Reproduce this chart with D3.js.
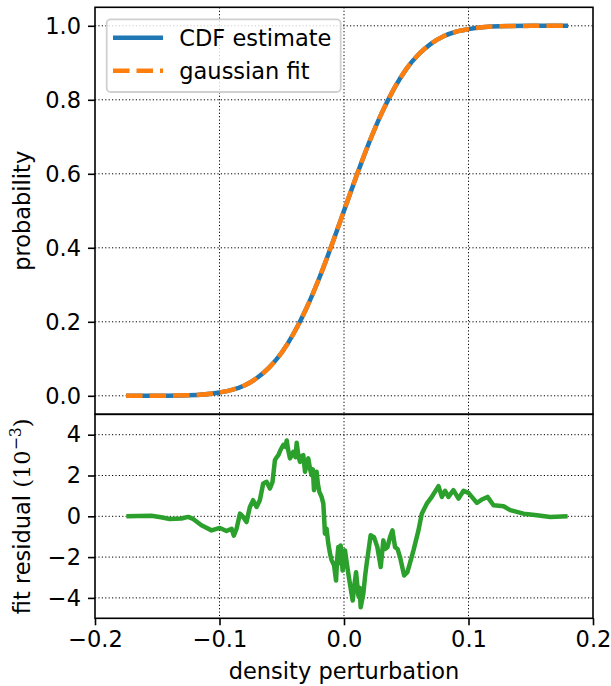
<!DOCTYPE html>
<html lang="en">
<head>
  <meta charset="UTF-8">
  <title>CDF fit</title>
  <script src="https://cdn.jsdelivr.net/npm/d3@7"></script>
  <style>
    body { margin: 0; background: #fff; }
    text { font-family: "DejaVu Sans", sans-serif; fill: #000; }
  </style>
</head>
<body>
  <svg id="svg" width="611" height="686"></svg>

  <script>
    // CDF curve
    const cdfX = [-0.175, -0.15, -0.125, -0.1, -0.09, -0.08, -0.07, -0.06, -0.05, -0.04, -0.03, -0.02, -0.01, 0,
                  0.01, 0.02, 0.03, 0.04, 0.05, 0.06, 0.07, 0.08, 0.09, 0.1, 0.125, 0.15, 0.18]
    const cdfEstimate = [0.0, 0.0002, 0.0014, 0.009, 0.016, 0.028, 0.048, 0.077, 0.117, 0.171, 0.238, 0.317, 0.406, 0.5,
                         0.594, 0.683, 0.762, 0.829, 0.883, 0.923, 0.952, 0.972, 0.984, 0.991, 0.9986, 0.9998, 1.0]
    const gaussFit = [0.0, 0.0002, 0.0014, 0.009, 0.016, 0.028, 0.048, 0.077, 0.117, 0.171, 0.238, 0.317, 0.406, 0.5,
                      0.594, 0.683, 0.762, 0.829, 0.883, 0.923, 0.952, 0.972, 0.984, 0.991, 0.9986, 0.9998, 1.0]

    // fit residual (units of 1e-3)
    const resX = [-0.1748, -0.165, -0.1547, -0.147, -0.140, -0.1306, -0.1252, -0.1212, -0.1145, -0.1064, -0.0997, -0.0944,
      -0.0903, -0.0885, -0.0863, -0.0836, -0.081, -0.0783, -0.0756, -0.073, -0.0702, -0.0676, -0.0649, -0.0622, -0.0595,
      -0.0574, -0.0555, -0.054, -0.0527, -0.051, -0.0487, -0.047, -0.046, -0.045, -0.0434, -0.042, -0.0407, -0.039, -0.038,
      -0.0365, -0.0353, -0.034, -0.0327, -0.0313, -0.03, -0.0287, -0.0272, -0.026, -0.025,
      -0.0241, -0.022, -0.021, -0.0198, -0.018, -0.0166, -0.0153, -0.014, -0.0126, -0.011, -0.0099, -0.008, -0.0064,
      -0.0055, -0.0046, -0.0035, -0.0027, -0.0011, 0.0008, 0.002,
      0.0035, 0.005, 0.007, 0.0085, 0.0097, 0.0115, 0.0125, 0.0134, 0.0155, 0.017, 0.0182, 0.0214, 0.0241, 0.0268, 0.0295,
      0.0316, 0.033, 0.0349, 0.037, 0.0389, 0.041, 0.043, 0.045, 0.0483, 0.0509, 0.0536, 0.0558, 0.0598, 0.0625, 0.0665,
      0.0705, 0.0759, 0.0786, 0.0812,
      0.0839, 0.0879, 0.092, 0.096, 0.1, 0.1027, 0.1067, 0.1107, 0.1153, 0.1201, 0.1282, 0.1335, 0.1442, 0.155, 0.1657, 0.1796]
    const resY = [0, 0.01, 0.03, -0.05, -0.13, -0.11, -0.03, -0.13, -0.44, -0.69, -0.57, -0.72,
      -0.61, -0.95, -0.61, 0.13, -0.03, -0.28, 0.46, 0.79, 0.46, 0.79, 1.61, 1.69, 1.36,
      1.69, 2.75, 2.9, 3.0, 3.25, 3.5, 3.4, 3.72, 3.3, 2.84, 3.0, 3.16, 2.9, 3.6,
      2.9, 2.67, 2.95, 3.0, 2.18, 2.6, 2.84, 2.3, 2.02, 2.3,
      1.28, 2.18, 1.6, 1.2, 0.95, 0.62, -0.85, -0.6, -1.34, -1.9, -2.16, -2.4, -3.15,
      -2.1, -1.51, -2.3, -1.43, -2.66, -1.67, -2.2,
      -2.82, -3.4, -4.13, -3.3, -2.74, -3.89, -3.5, -4.46, -3.8, -2.9, -2.33, -0.93, -1.02, -1.51, -2.49,
      -1.18, -1.6, -1.51, -1.02, -0.69, -1.51, -1.6, -2.0, -2.9, -2.74, -2.16, -1.67, -0.69, 0.13, 0.62,
      0.95, 1.48, 0.95, 1.25,
      0.95, 1.28, 0.87, 1.25, 1.15, 0.95, 0.66, 0.82, 0.95, 0.54, 0.49, 0.30, 0.13, 0.05, -0.03, 0]

    const xTicks = [-0.2, -0.1, 0.0, 0.1, 0.2]
    const cdfTicks = [0.0, 0.2, 0.4, 0.6, 0.8, 1.0]
    const resTicks = [-4, -2, 0, 2, 4]

    const fontSize = 22.5
    const left = 95, right = 593
    const top1 = 7.3, bot1 = 414.3, bot2 = 618.3

    const svg = d3.select("#svg")
    const minus = s => s.replace("-", "\u2212")

    const x = d3.scaleLinear().domain([-0.2, 0.2]).range([left, right])
    const y1 = d3.scaleLinear().domain([-0.05, 1.05]).range([bot1, top1])
    const y2 = d3.scaleLinear().domain([-5, 5]).range([bot2, bot1])

    function panel(yscale, ticks, fmt, yTop, yBot) {
      const g = svg.append("g")
      // grid
      g.append("g").selectAll("line").data(xTicks.slice(1, -1)).join("line")
        .attr("x1", d => x(d)).attr("x2", d => x(d))
        .attr("y1", yTop).attr("y2", yBot)
        .attr("stroke", "#000").attr("stroke-width", 1).attr("stroke-dasharray", "1.2,2.2")
      g.append("g").selectAll("line").data(ticks).join("line")
        .attr("x1", left).attr("x2", right)
        .attr("y1", d => yscale(d)).attr("y2", d => yscale(d))
        .attr("stroke", "#000").attr("stroke-width", 1).attr("stroke-dasharray", "1.2,2.2")
      // y axis
      const ax = g.append("g")
        .attr("transform", `translate(${left},0)`)
        .call(d3.axisLeft(yscale).tickValues(ticks).tickFormat(d => minus(fmt(d)))
          .tickSize(7).tickPadding(7).tickSizeOuter(0))
      ax.select(".domain").remove()
      ax.selectAll("line").attr("stroke-width", 1.6)
      ax.selectAll("text").attr("font-size", fontSize).attr("font-family", "DejaVu Sans")
      return g
    }

    panel(y1, cdfTicks, d3.format(".1f"), top1, bot1)
    panel(y2, resTicks, d3.format("d"), bot1, bot2)

    // x axis at the bottom
    const xa = svg.append("g")
      .attr("transform", `translate(0,${bot2})`)
      .call(d3.axisBottom(x).tickValues(xTicks).tickFormat(d => minus(d3.format(".1f")(d)))
        .tickSize(7).tickPadding(6).tickSizeOuter(0))
    xa.select(".domain").remove()
    xa.selectAll("line").attr("stroke-width", 1.6)
    xa.selectAll("text").attr("font-size", fontSize).attr("font-family", "DejaVu Sans")

    // curves
    const cdfLine = d3.line().x((d, i) => x(cdfX[i])).y(d => y1(d)).curve(d3.curveMonotoneX)
    svg.append("path").datum(cdfEstimate)
      .attr("d", cdfLine).attr("fill", "none")
      .attr("stroke", "#1f77b4").attr("stroke-width", 4.5)
    svg.append("path").datum(gaussFit)
      .attr("d", cdfLine).attr("fill", "none")
      .attr("stroke", "#ff7f0e").attr("stroke-width", 4.5).attr("stroke-dasharray", "16.5,7")

    const resLine = d3.line().x((d, i) => x(resX[i])).y(d => y2(d))
    svg.append("path").datum(resY)
      .attr("d", resLine).attr("fill", "none")
      .attr("stroke", "#2ca02c").attr("stroke-width", 4.5).attr("stroke-linejoin", "round")

    // frames
    svg.append("rect").attr("x", left).attr("y", top1).attr("width", right - left).attr("height", bot1 - top1)
      .attr("fill", "none").attr("stroke", "#000").attr("stroke-width", 1.6)
    svg.append("rect").attr("x", left).attr("y", bot1).attr("width", right - left).attr("height", bot2 - bot1)
      .attr("fill", "none").attr("stroke", "#000").attr("stroke-width", 1.6)

    // legend
    const lg = svg.append("g")
    lg.append("rect").attr("x", 106.7).attr("y", 19.3).attr("width", 234).attr("height", 72.7)
      .attr("rx", 4).attr("fill", "#fff").attr("fill-opacity", 0.8)
      .attr("stroke", "#d0d0d0").attr("stroke-width", 1.8)
    lg.append("line").attr("x1", 113).attr("x2", 163).attr("y1", 37.7).attr("y2", 37.7)
      .attr("stroke", "#1f77b4").attr("stroke-width", 4.5)
    lg.append("line").attr("x1", 113).attr("x2", 163).attr("y1", 70.7).attr("y2", 70.7)
      .attr("stroke", "#ff7f0e").attr("stroke-width", 4.5).attr("stroke-dasharray", "16.5,7")
    lg.append("text").attr("x", 179.3).attr("y", 46).attr("font-size", fontSize).text("CDF estimate")
    lg.append("text").attr("x", 179.3).attr("y", 79).attr("font-size", fontSize).text("gaussian fit")

    // labels
    svg.append("text").attr("transform", `translate(30,${(top1 + bot1) / 2}) rotate(-90)`)
      .attr("text-anchor", "middle").attr("font-size", fontSize).text("probability")
    const rl = svg.append("text").attr("transform", `translate(30,${(bot1 + bot2) / 2}) rotate(-90)`)
      .attr("text-anchor", "middle").attr("font-size", fontSize)
    rl.append("tspan").text("fit residual ")
    const m = rl.append("tspan").attr("font-family", "DejaVu Serif")
    m.append("tspan").text("(10")
    m.append("tspan").attr("font-size", fontSize * 0.7).attr("dy", -9).text("\u22123")
    m.append("tspan").attr("dy", 9).text(")")

    svg.append("text").attr("x", (left + right) / 2).attr("y", 679)
      .attr("text-anchor", "middle").attr("font-size", fontSize).text("density perturbation")
  </script>
</body>
</html>
